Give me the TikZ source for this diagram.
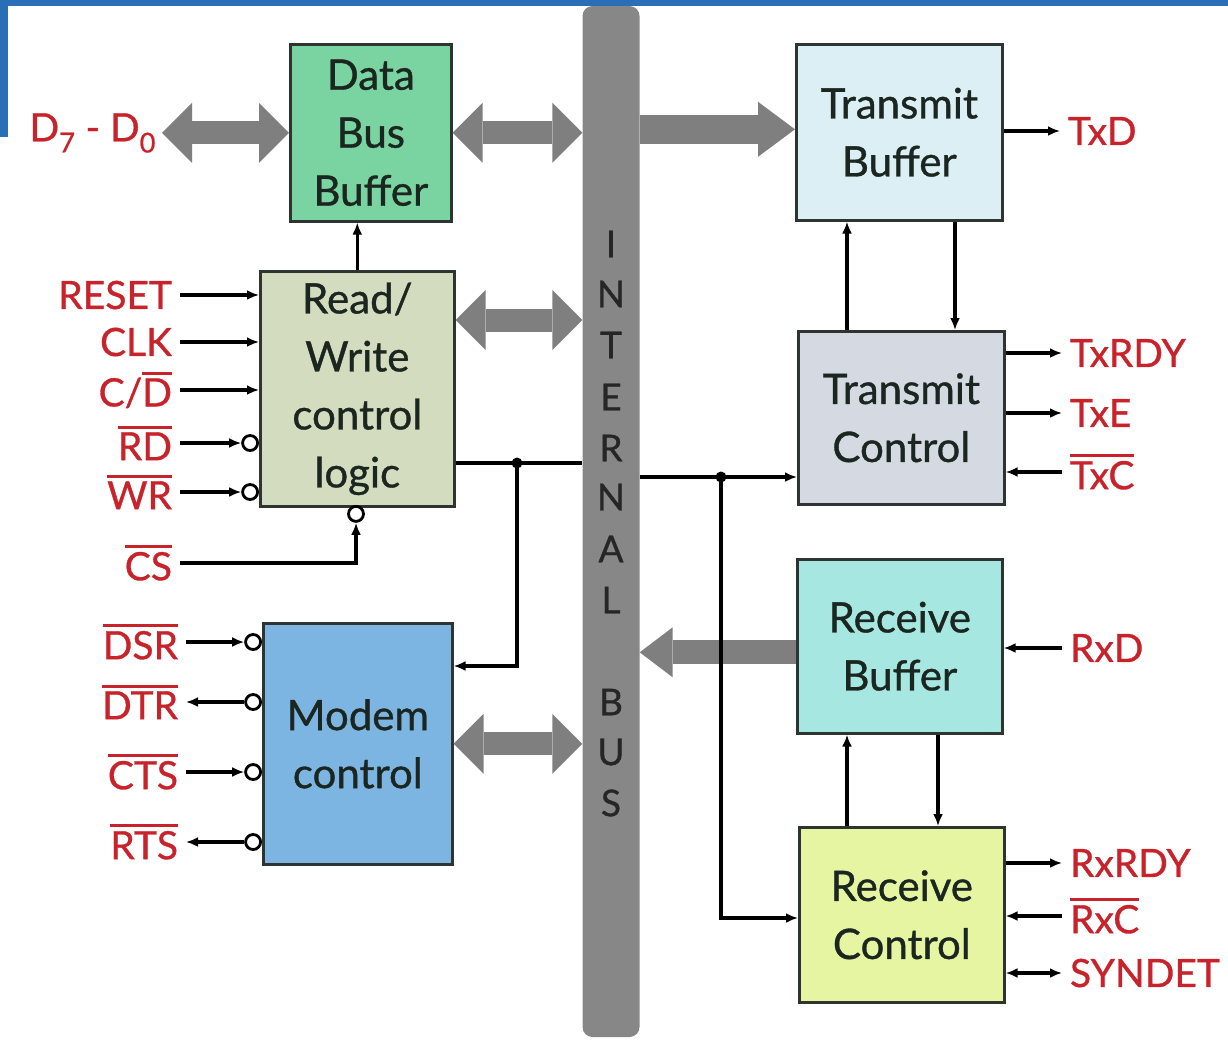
\documentclass[tikz,border=0pt]{standalone}
\usepackage{fontspec}
\setmainfont{Lato}
\newfontfamily\heavyff{Lato}[FakeBold=0.8]
\usetikzlibrary{arrows.meta,calc}
\definecolor{frameblue}{HTML}{2A6EB8}
\definecolor{labred}{HTML}{C8232B}
\definecolor{boxtext}{HTML}{1C2620}
\definecolor{boxline}{HTML}{2E3430}
\definecolor{busgrey}{HTML}{878787}
\definecolor{fatgrey}{HTML}{7F7F7F}
\definecolor{cdbb}{HTML}{7AD4A2}
\definecolor{crw}{HTML}{D4DCC0}
\definecolor{cmc}{HTML}{7CB5E1}
\definecolor{ctb}{HTML}{DCEFF5}
\definecolor{ctc}{HTML}{D5D9E2}
\definecolor{crb}{HTML}{A6E7E1}
\definecolor{crc}{HTML}{E6F5A2}
\newcommand\ovl[1]{\vbox{\hrule height 3pt\kern 3.5pt\hbox{#1}}}
\newcommand\labfont{\heavyff\fontsize{39}{42}\selectfont}
\newcommand\boxfont{\heavyff\fontsize{42}{58}\selectfont}
\begin{document}
\begin{tikzpicture}[x=1pt,y=-1pt,
  >={Latex[length=12pt,width=10pt]},
  blk/.style={draw=boxline, line width=2.6pt, align=center, inner sep=0pt, anchor=north west, text=boxtext, font=\boxfont},
  llab/.style={text=labred, font=\labfont, inner sep=0pt, outer xsep=8pt, anchor=east},
  rlab/.style={text=labred, font=\labfont, inner sep=0pt, outer xsep=8pt, anchor=west},
  wire/.style={line width=3.2pt, draw=black},
  bubble/.style={circle, draw=black, fill=white, line width=2.8pt, minimum size=15pt, inner sep=0pt, anchor=east},
  jdot/.style={circle, fill=black, minimum size=11pt, inner sep=0pt},
  fat2/.style={draw=fatgrey, line width=23pt, {Triangle[width=60pt,length=30pt,line width=0pt]}-{Triangle[width=60pt,length=30pt,line width=0pt]}},
  fatT/.style={draw=fatgrey, line width=29pt, -{Triangle[width=55pt,length=37pt,line width=0pt]}},
  fatR/.style={draw=fatgrey, line width=24pt, -{Triangle[width=50pt,length=33pt,line width=0pt]}},
  busbar/.style={fill=busgrey, rounded corners=10pt, minimum width=57pt, minimum height=1031pt, inner sep=0pt},
  busletter/.style={text=black!85, font=\heavyff\fontsize{37}{40}\selectfont, inner sep=0pt}
]
\useasboundingbox (0,0) rectangle (1228,1039);
% frame
\fill[frameblue] (0,0) rectangle (1228,6);
\fill[frameblue] (0,0) rectangle (8,137);
% internal bus
\node[busbar] (bus) at (611,521.5) {};
\foreach \ch/\yy in {I/244,N/294,T/345,E/397,R/448,N/497,A/549,L/600,B/702,U/752,S/803}
  \node[busletter] (bl-\yy) at (611,\yy) {\ch};
% blocks
\node[blk, fill=cdbb, minimum width=161pt, minimum height=177pt] (dbb) at (289,43) {Data\\Bus\\Buffer};
\node[blk, fill=crw, minimum width=194pt, minimum height=235pt] (rw) at (259,270) {Read/\\Write\\control\\logic};
\node[blk, fill=cmc, minimum width=189pt, minimum height=241pt] (mc) at (262,622) {Modem\\control};
\node[blk, fill=ctb, minimum width=206pt, minimum height=176pt] (tb) at (795,43) {Transmit\\Buffer};
\node[blk, fill=ctc, minimum width=206pt, minimum height=173pt] (tc) at (797,330) {Transmit\\Control};
\node[blk, fill=crb, minimum width=205pt, minimum height=174pt] (rb) at (796,558) {Receive\\Buffer};
\node[blk, fill=crc, minimum width=205pt, minimum height=175pt] (rc) at (798,826) {Receive\\Control};
% left labels
\node[llab, outer xsep=6pt] (d70) at (162,133) {D\textsubscript{7} - D\textsubscript{0}};
\node[llab] (lRESET) at (180,295) {RESET};
\node[llab] (lCLK) at (180,342) {CLK};
\node[llab] (lCD) at (180,390) {C/\ovl{D}};
\node[llab] (lRD) at (180,443) {\ovl{RD}};
\node[llab] (lWR) at (180,492) {\ovl{WR}};
\node[llab] (lCS) at (180,563) {\ovl{CS}};
\node[llab] (lDSR) at (186,642) {\ovl{DSR}};
\node[llab] (lDTR) at (186,702) {\ovl{DTR}};
\node[llab] (lCTS) at (186,772) {\ovl{CTS}};
\node[llab] (lRTS) at (186,842) {\ovl{RTS}};
% right labels
\node[rlab] (lTxD) at (1060,131) {TxD};
\node[rlab] (lTxRDY) at (1062,353) {TxRDY};
\node[rlab] (lTxE) at (1062,413) {TxE};
\node[rlab] (lTxC) at (1062,472) {\ovl{TxC}};
\node[rlab] (lRxD) at (1062,648) {RxD};
\node[rlab] (lRxRDY) at (1062,863) {RxRDY};
\node[rlab] (lRxC) at (1062,916) {\ovl{RxC}};
\node[rlab] (lSYN) at (1062,973) {SYNDET};
% bubbles
\node[bubble] (bRD) at (259,443) {};
\node[bubble] (bWR) at (259,492) {};
\node[bubble, anchor=north] (bCS) at (356,505) {};
\node[bubble] (bDSR) at (262,642) {};
\node[bubble] (bDTR) at (262,702) {};
\node[bubble] (bCTS) at (262,772) {};
\node[bubble] (bRTS) at (262,842) {};
% junctions
\node[jdot] (j1) at (517,463) {};
\node[jdot] (j2) at (721,477) {};
% helper coordinates
\coordinate (rwb) at ($(rw.north east)+(0,50)$);
\coordinate (tbw) at ($(tb.west)+(0,-3)$);
\coordinate (rbw) at ($(rb.west)+(0,6)$);
\coordinate (mcin) at ($(mc.north east)+(0,44)$);
\coordinate (rcin) at ($(rc.north west)+(0,92)$);
\coordinate (tcu) at ($(tc.north west)+(50,0)$);
\coordinate (tbd) at ($(tb.south west)+(160,0)$);
\coordinate (rcu) at ($(rc.north west)+(49,0)$);
\coordinate (rbd) at ($(rb.south west)+(142,0)$);
% fat bus arrows
\draw[fat2] (d70.east |- dbb.west) -- (dbb.west);
\draw[fat2] (dbb.east) -- (dbb.east -| bus.west);
\draw[fat2] (rwb) -- (rwb -| bus.west);
\draw[fat2] (mc.east) -- (mc.east -| bus.west);
\draw[fatT] (tbw -| bus.east) -- (tbw);
\draw[fatR] (rbw) -- (rbw -| bus.east);
% internal wires
\draw[wire,->] (rw.north) -- (rw.north |- dbb.south);
\draw[wire] (rw.east |- j1) -- (bus.west |- j1);
\draw[wire,->] (j1.center) |- (mcin);
\draw[wire,->] (bus.east |- j2) -- (tc.west |- j2);
\draw[wire,->] (j2.center) |- (rcin);
\draw[wire,->] (tcu) -- (tcu |- tb.south);
\draw[wire,->] (tbd) -- (tbd |- tc.north);
\draw[wire,->] (rcu) -- (rcu |- rb.south);
\draw[wire,->] (rbd) -- (rbd |- rc.north);
% left signals
\draw[wire,->] (lRESET.east) -- (lRESET.east -| rw.west);
\draw[wire,->] (lCLK.east) -- (lCLK.east -| rw.west);
\draw[wire,->] (lCD.east) -- (lCD.east -| rw.west);
\draw[wire,->] (lRD.east |- bRD.west) -- (bRD.west);
\draw[wire,->] (lWR.east |- bWR.west) -- (bWR.west);
\draw[wire,->] (lCS.east) -| (bCS.south);
\draw[wire,->] (lDSR.east |- bDSR.west) -- (bDSR.west);
\draw[wire,->] (bDTR.west) -- (lDTR.east |- bDTR.west);
\draw[wire,->] (lCTS.east |- bCTS.west) -- (bCTS.west);
\draw[wire,->] (bRTS.west) -- (lRTS.east |- bRTS.west);
% right signals
\draw[wire,->] (tb.east |- lTxD.west) -- (lTxD.west);
\draw[wire,->] (tc.east |- lTxRDY.west) -- (lTxRDY.west);
\draw[wire,->] (tc.east |- lTxE.west) -- (lTxE.west);
\draw[wire,->] (lTxC.west) -- (lTxC.west -| tc.east);
\draw[wire,->] (lRxD.west) -- (lRxD.west -| rb.east);
\draw[wire,->] (rc.east |- lRxRDY.west) -- (lRxRDY.west);
\draw[wire,->] (lRxC.west) -- (lRxC.west -| rc.east);
\draw[wire,<->] (rc.east |- lSYN.west) -- (lSYN.west);
\end{tikzpicture}
\end{document}
